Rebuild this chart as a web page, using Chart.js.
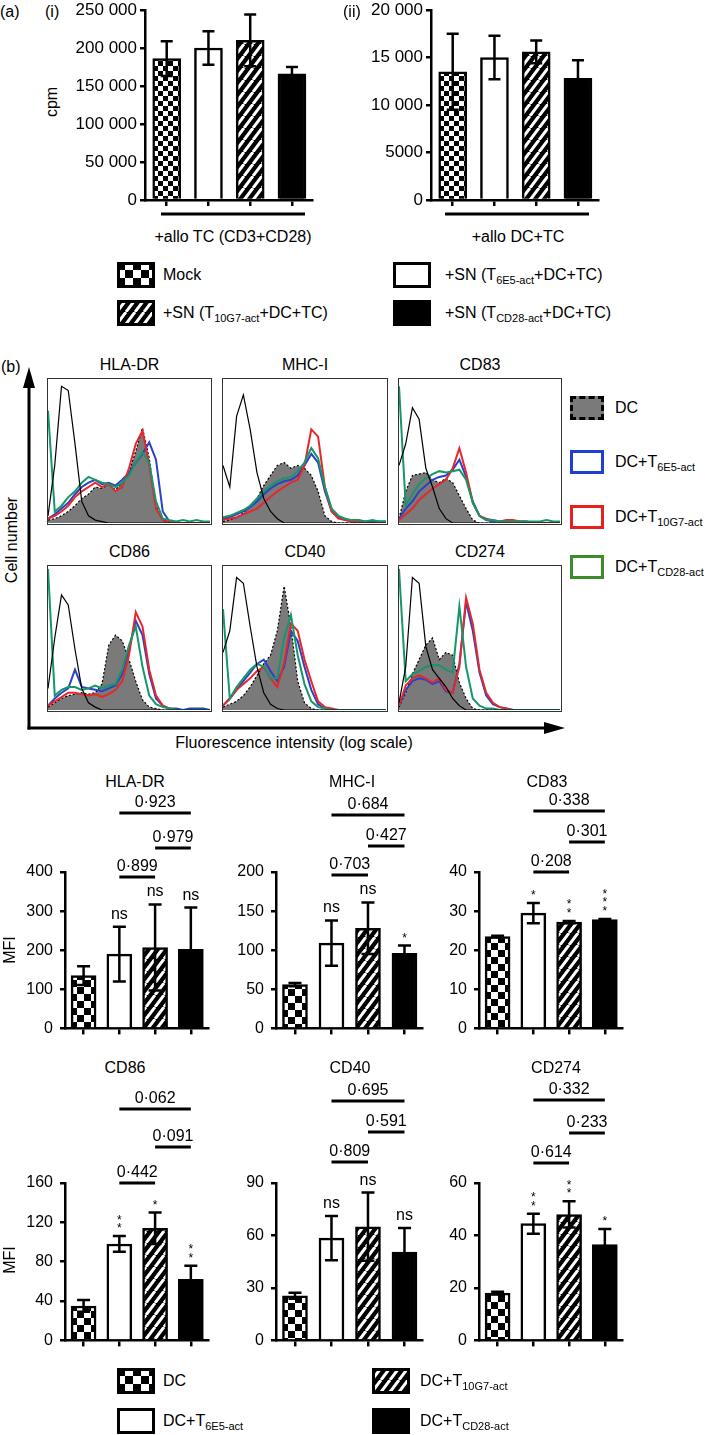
<!DOCTYPE html>
<html><head><meta charset="utf-8">
<script src="https://cdn.jsdelivr.net/npm/chart.js@4.4.1/dist/chart.umd.min.js"></script>
<style>
html,body{margin:0;padding:0;background:#fff;}
body{width:709px;height:1435px;position:relative;overflow:hidden;font-family:'Liberation Sans',Arial,Helvetica,sans-serif;color:#000;}
.t{position:absolute;font-size:16px;line-height:1;white-space:nowrap;}
.c{transform:translate(-50%,-50%);}
.l{transform:translateY(-50%);}
.rot{transform:translate(-50%,-50%) rotate(-90deg);}
sub{font-size:11px;vertical-align:-4px;line-height:0;}
canvas{position:absolute;}
.box{position:absolute;border:1.5px solid #333;box-sizing:border-box;}
.sw{position:absolute;box-sizing:border-box;}
</style></head><body>
<svg width="709" height="1435" style="position:absolute;left:0;top:0">
 <line x1="161" y1="214" x2="305" y2="214" stroke="#000" stroke-width="3"/>
 <line x1="445" y1="214" x2="589" y2="214" stroke="#000" stroke-width="3"/>
 <line x1="29" y1="385" x2="29" y2="729.5" stroke="#000" stroke-width="3"/>
 <line x1="27.5" y1="728" x2="548" y2="728" stroke="#000" stroke-width="3"/>
 <polygon points="29,367 23,388 35,388" fill="#000"/>
 <polygon points="565,728 544,722 544,734" fill="#000"/>
</svg>
<script>
// ================= DATA =================
const groupsA = ['Mock', '+SN (T6E5-act+DC+TC)', '+SN (T10G7-act+DC+TC)', '+SN (TCD28-act+DC+TC)'];
const groupsB = ['DC', 'DC+T6E5-act', 'DC+T10G7-act', 'DC+TCD28-act'];
const panelAGroups = ['+allo TC (CD3+CD28)', '+allo DC+TC'];

const cpmTC = [186000, 200000, 210000, 166000];
const cpmTCErr = [23000, 22000, 34000, 9000];
const cpmTCTicks = [0, 50000, 100000, 150000, 200000, 250000];
const cpmTCTickLabels = ['0', '50 000', '100 000', '150 000', '200 000', '250 000'];

const cpmDC = [13500, 15000, 15600, 12800];
const cpmDCErr = [4000, 2300, 1200, 1900];
const cpmDCTicks = [0, 5000, 10000, 15000, 20000];
const cpmDCTickLabels = ['0', '5000', '10 000', '15 000', '20 000'];

const markers = ['HLA-DR', 'MHC-I', 'CD83', 'CD86', 'CD40', 'CD274'];

const mfiHLADR = [135, 190, 207, 202];
const errHLADR = [24, 70, 110, 107];
const sigHLADR = ['', 'ns', 'ns', 'ns'];
const pHLADR = ['0·923', '0·979', '0·899'];
const ticksHLADR = [0, 100, 200, 300, 400];

const mfiMHCI = [56, 109, 128, 96];
const errMHCI = [2, 29, 33, 10];
const sigMHCI = ['', 'ns', 'ns', '*'];
const pMHCI = ['0·684', '0·427', '0·703'];
const ticksMHCI = [0, 50, 100, 150, 200];

const mfiCD83 = [23.5, 29.5, 27.2, 27.8];
const errCD83 = [0.2, 2.6, 0.3, 0.2];
const sigCD83 = ['', '*', '**', '***'];
const pCD83 = ['0·338', '0·301', '0·208'];
const ticksCD83 = [0, 10, 20, 30, 40];

const mfiCD86 = [35, 98, 114, 62];
const errCD86 = [6, 8, 16, 14];
const sigCD86 = ['', '**', '*', '**'];
const pCD86 = ['0·062', '0·091', '0·442'];
const ticksCD86 = [0, 40, 80, 120, 160];

const mfiCD40 = [25.5, 58.5, 65, 50.5];
const errCD40 = [1.7, 12.7, 19.5, 13.7];
const sigCD40 = ['', 'ns', 'ns', 'ns'];
const pCD40 = ['0·695', '0·591', '0·809'];
const ticksCD40 = [0, 30, 60, 90];

const mfiCD274 = [18, 44.5, 48, 36.5];
const errCD274 = [0.5, 3.8, 5, 6];
const sigCD274 = ['', '**', '**', '*'];
const pCD274 = ['0·332', '0·233', '0·614'];
const ticksCD274 = [0, 20, 40, 60];

const pPairs = [[1, 3], [2, 3], [1, 2]];

// histogram bins (log fluorescence, relative cell counts)
const histBins = [0,1,2,3,4,5,6,7,8,9,10,11,12,13,14,15,16,17,18,19,20,21,22,23,24];
const hlaIso   = [5,40,95,92,55,15,5,2,1,0,0,0,0,0,0,0,0,0,0,0,0,0,0,0,0];
const hlaDC    = [2,3,5,8,12,17,20,25,24,27,23,28,35,50,66,45,12,2,0,0,0,0,0,0,0];
const hlaBlue  = [3,6,10,14,20,25,28,30,27,28,26,30,35,42,48,56,44,8,1,0,0,0,0,0,0];
const hlaRed   = [3,5,8,12,18,22,25,28,25,27,22,25,38,55,64,40,10,2,1,0,0,0,0,0,0];
const hlaGreen = [78,8,12,18,22,28,32,30,28,27,25,28,33,42,49,42,15,3,2,1,2,1,2,1,1];

const mhcIso   = [40,25,74,89,65,35,17,8,3,0,0,0,0,0,0,0,0,0,0,0,0,0,0,0,0];
const mhcDC    = [1,2,4,7,12,17,26,33,40,42,38,40,38,33,22,5,1,0,0,0,0,0,0,0,0];
const mhcBlue  = [3,4,6,8,11,15,20,24,27,29,30,33,40,48,42,22,8,4,2,1,1,1,1,1,1];
const mhcRed   = [2,3,4,6,8,10,14,18,22,25,28,30,40,65,60,25,8,3,2,1,1,0,0,0,0];
const mhcGreen = [4,5,7,9,12,17,22,26,29,31,32,36,42,52,45,25,10,5,3,2,2,1,2,1,1];

const cd83Iso   = [40,55,80,72,38,25,10,3,0,0,0,0,0,0,0,0,0,0,0,0,0,0,0,0,0];
const cd83DC    = [3,22,33,34,35,30,28,31,28,19,10,2,0,0,0,0,0,0,0,0,0,0,0,0,0];
const cd83Blue  = [3,10,15,22,26,30,32,33,37,44,32,15,5,2,1,1,1,1,1,1,0,0,0,0,0];
const cd83Red   = [2,6,10,16,20,24,27,30,38,52,35,14,5,3,2,1,2,2,1,1,0,0,0,0,0];
const cd83Green = [95,12,20,27,31,34,36,35,36,37,30,14,5,2,2,1,1,1,1,1,1,1,2,1,1];

const cd86Iso   = [15,50,80,73,42,15,5,2,0,0,0,0,0,0,0,0,0,0,0,0,0,0,0,0,0];
const cd86DC    = [2,5,8,10,11,12,11,12,18,45,52,48,35,20,7,2,1,0,0,0,0,0,0,0,0];
const cd86Blue  = [3,8,12,15,28,16,15,14,13,15,17,25,42,62,52,25,8,3,1,1,0,1,1,1,0];
const cd86Red   = [3,6,9,12,12,11,10,11,9,11,14,20,38,68,58,28,10,3,1,0,0,0,0,0,0];
const cd86Green = [98,10,14,16,16,14,15,17,15,17,18,28,45,58,30,10,4,2,1,0,0,0,0,0,0];

const cd40Iso   = [40,55,92,88,58,30,12,4,1,0,0,0,0,0,0,0,0,0,0,0,0,0,0,0,0];
const cd40DC    = [2,4,6,10,16,24,32,38,55,86,58,20,5,1,0,0,0,0,0,0,0,0,0,0,0];
const cd40Blue  = [3,8,14,20,26,32,35,27,20,30,55,48,30,14,4,1,0,0,0,0,0,0,0,0,0];
const cd40Red   = [3,8,14,18,22,27,30,22,16,33,60,55,35,20,6,2,1,0,0,0,0,0,0,0,0];
const cd40Green = [70,8,16,22,28,32,30,22,22,50,66,38,18,6,2,1,0,0,0,0,0,0,0,0,0];

const cd274Iso   = [5,30,92,88,44,28,22,16,8,3,0,0,0,0,0,0,0,0,0,0,0,0,0,0,0];
const cd274DC    = [2,12,25,35,45,50,35,40,38,19,8,1,0,0,0,0,0,0,0,0,0,0,0,0,0];
const cd274Blue  = [3,14,20,22,21,18,20,13,12,32,75,55,26,10,4,2,1,0,0,0,0,0,0,0,0];
const cd274Red   = [3,17,22,24,22,19,22,14,12,30,78,60,28,12,5,2,1,0,0,0,0,0,0,0,0];
const cd274Green = [98,20,25,27,30,31,31,28,26,72,30,8,3,1,1,0,0,0,0,0,0,0,0,0,0];

// ================= STYLE / LAYOUT =================
const FONT = "'Liberation Sans', Arial, Helvetica, sans-serif";
Chart.defaults.font.family = FONT;
Chart.defaults.font.size = 16;
Chart.defaults.color = '#000';

function checker(s) {
  const c = document.createElement('canvas'); c.width = 2 * s; c.height = 2 * s;
  const x = c.getContext('2d'); x.fillStyle = '#fff'; x.fillRect(0, 0, 2 * s, 2 * s);
  x.fillStyle = '#000'; x.fillRect(0, 0, s, s); x.fillRect(s, s, s, s);
  return c;
}
function hatch(w, h, lw) {
  const c = document.createElement('canvas'); c.width = w; c.height = h;
  const x = c.getContext('2d'); x.fillStyle = '#000'; x.fillRect(0, 0, w, h);
  x.strokeStyle = '#fff'; x.lineWidth = lw;
  x.beginPath();
  for (const o of [-w, 0, w]) { x.moveTo(o, h); x.lineTo(o + w, 0); }
  x.stroke();
  return c;
}
function pat(tile) { return document.createElement('canvas').getContext('2d').createPattern(tile, 'repeat'); }
function fillsFor(cell) {
  return [pat(checker(cell)), '#ffffff', pat(hatch(9, 12, 3)), '#000000'];
}

function addText(html, x, y, cls, size) {
  const d = document.createElement('div');
  d.className = 't ' + cls; d.innerHTML = html;
  d.style.left = x + 'px'; d.style.top = y + 'px';
  if (size) d.style.fontSize = size + 'px';
  document.body.appendChild(d);
  return d;
}
function subbed(s) { return s.replace(/T([0-9A-Za-z]+-act)/, 'T<sub>$1</sub>'); }

function makeBar(cfg) {
  const yW = 72, padR = 8, xH = 12, padB = 4;
  const padT = cfg.padT;
  const plotW = cfg.rightX - cfg.axisX, plotH = cfg.zeroY - cfg.topY;
  const W = yW + plotW + padR, H = padT + plotH + xH + padB;
  const left = cfg.axisX - yW, top = cfg.topY - padT;
  const cv = document.createElement('canvas');
  cv.width = W; cv.height = H;
  cv.style.left = left + 'px'; cv.style.top = top + 'px';
  cv.style.width = W + 'px'; cv.style.height = H + 'px';
  document.body.appendChild(cv);
  const toLocal = y => y - top;
  const overlay = {
    id: 'overlay',
    afterDatasetsDraw(chart) {
      const ctx = chart.ctx, xs = chart.scales.x, ys = chart.scales.y;
      const meta = chart.getDatasetMeta(0);
      ctx.save();
      ctx.strokeStyle = '#000'; ctx.fillStyle = '#000'; ctx.lineCap = 'butt';
      cfg.values.forEach((v, i) => {
        const e = cfg.errs[i], x = meta.data[i].x, c = cfg.cap / 2;
        const yt = ys.getPixelForValue(v + e), yb = ys.getPixelForValue(Math.max(v - e, 0));
        ctx.lineWidth = 2.5;
        ctx.beginPath();
        ctx.moveTo(x, yt); ctx.lineTo(x, yb);
        ctx.moveTo(x - c, yt); ctx.lineTo(x + c, yt);
        ctx.moveTo(x - c, yb); ctx.lineTo(x + c, yb);
        ctx.stroke();
        const s = cfg.sig ? cfg.sig[i] : '';
        ctx.textAlign = 'center'; ctx.textBaseline = 'alphabetic';
        if (s === 'ns') {
          ctx.font = '16px ' + FONT; ctx.fillText('ns', x, yt - 8);
        } else if (s) {
          ctx.font = '12px ' + FONT;
          for (let k = 0; k < s.length; k++) ctx.fillText('*', x, yt - 4 - k * 8.5);
        }
      });
      if (cfg.pvals) {
        cfg.pvals.forEach((p, k) => {
          const [a, b] = pPairs[k];
          const xa = xs.getPixelForValue(a), xb = xs.getPixelForValue(b);
          const ly = toLocal(cfg.brLine[k]);
          ctx.lineWidth = 3;
          ctx.beginPath(); ctx.moveTo(xa, ly); ctx.lineTo(xb, ly); ctx.stroke();
          ctx.font = '16px ' + FONT; ctx.textAlign = 'center'; ctx.textBaseline = 'alphabetic';
          ctx.fillText(p, (xa + xb) / 2, ly - 6);
        });
      }
      ctx.restore();
    }
  };
  return new Chart(cv, {
    type: 'bar',
    data: { datasets: [{
      data: cfg.values.map((v, i) => ({ x: i, y: v })),
      backgroundColor: fillsFor(cfg.cell),
      borderColor: '#000', borderWidth: 2.5,
      barThickness: cfg.barW, borderSkipped: 'start'
    }] },
    options: {
      responsive: false, animation: false, devicePixelRatio: 1,
      layout: { padding: { top: padT, right: padR, bottom: padB, left: 0 } },
      plugins: { legend: { display: false }, tooltip: { enabled: false } },
      scales: {
        x: {
          type: 'linear', min: -0.52, max: 3.48, offset: false,
          afterBuildTicks: s => { s.ticks = [0, 1, 2, 3].map(v => ({ value: v })); },
          afterFit: s => { s.height = xH; },
          ticks: { display: false },
          grid: { display: true, offset: false, drawOnChartArea: false, drawTicks: true, tickLength: 6, color: '#000', lineWidth: 2.5 },
          border: { display: true, color: '#000', width: 2.5 }
        },
        y: {
          min: 0, max: cfg.ticks[cfg.ticks.length - 1],
          afterBuildTicks: s => { s.ticks = cfg.ticks.map(v => ({ value: v })); },
          afterFit: s => { s.width = yW; },
          ticks: {
            autoSkip: false, padding: cfg.tickPad, color: '#000', font: { size: cfg.tickSize || 16 },
            callback: v => { const i = cfg.ticks.indexOf(v); return i >= 0 ? cfg.tickLabels[i] : ''; }
          },
          grid: { display: true, drawOnChartArea: false, drawTicks: true, tickLength: 5, color: '#000', lineWidth: 2.5 },
          border: { display: true, color: '#000', width: 2.5 }
        }
      }
    },
    plugins: [overlay]
  });
}

// ---------- panel (a) ----------
makeBar({ axisX: 145, rightX: 312, topY: 10, zeroY: 200, padT: 14, barW: 28, cell: 5, cap: 12, tickPad: 3, tickSize: 17,
  values: cpmTC, errs: cpmTCErr, ticks: cpmTCTicks, tickLabels: cpmTCTickLabels });
makeBar({ axisX: 431, rightX: 598, topY: 10, zeroY: 200, padT: 14, barW: 28, cell: 5, cap: 12, tickPad: 3, tickSize: 17,
  values: cpmDC, errs: cpmDCErr, ticks: cpmDCTicks, tickLabels: cpmDCTickLabels });

addText('(a)', 0, 12, 'l');
addText('(i)', 45, 12, 'l');
addText('(ii)', 343, 12, 'l');
addText('cpm', 52, 102, 'rot');
addText(panelAGroups[0], 233, 237, 'c');
addText(panelAGroups[1], 518, 237, 'c');

function swatchCanvas(x, y, w, h, fill) {
  const c = document.createElement('canvas'); c.width = w; c.height = h;
  c.style.left = x + 'px'; c.style.top = y + 'px';
  const g = c.getContext('2d');
  g.fillStyle = fill; g.fillRect(0, 0, w, h);
  g.strokeStyle = '#000'; g.lineWidth = 3; g.strokeRect(1.5, 1.5, w - 3, h - 3);
  document.body.appendChild(c);
}
const legFills = fillsFor(8);
// legend (a)
swatchCanvas(117, 262, 38, 26, legFills[0]); addText(subbed(groupsA[0]), 163, 275, 'l');
swatchCanvas(393, 262, 38, 26, legFills[1]); addText(subbed(groupsA[1]), 445, 275, 'l');
swatchCanvas(117, 300, 38, 26, legFills[2]); addText(subbed(groupsA[2]), 163, 313, 'l');
swatchCanvas(393, 300, 38, 26, legFills[3]); addText(subbed(groupsA[3]), 445, 313, 'l');

// ---------- panel (b) histograms ----------
const COL = { blue: '#2b41c6', red: '#e8262c', green: '#15976a', gray: '#7a7a7a' };
function makeHist(left, top, w, h, iso, dc, blue, red, green) {
  const d = document.createElement('div'); d.className = 'box';
  d.style.left = left + 'px'; d.style.top = top + 'px'; d.style.width = w + 'px'; d.style.height = h + 'px';
  document.body.appendChild(d);
  const cw = w - 3, ch = h - 3;
  const cv = document.createElement('canvas'); cv.width = cw; cv.height = ch;
  cv.style.left = '0px'; cv.style.top = '0px'; cv.style.width = cw + 'px'; cv.style.height = ch + 'px';
  d.appendChild(cv);
  new Chart(cv, {
    type: 'line',
    data: { labels: histBins, datasets: [
      { data: iso, borderColor: '#000', borderWidth: 1.2, fill: false },
      { data: green, borderColor: COL.green, borderWidth: 2, fill: false },
      { data: red, borderColor: COL.red, borderWidth: 2, fill: false },
      { data: blue, borderColor: COL.blue, borderWidth: 2, fill: false },
      { data: dc, borderColor: '#000', borderWidth: 1.2, borderDash: [2, 2], backgroundColor: COL.gray, fill: 'origin' }
    ] },
    options: {
      responsive: false, animation: false, devicePixelRatio: 1,
      layout: { padding: 0 },
      plugins: { legend: { display: false }, tooltip: { enabled: false } },
      elements: { point: { radius: 0 }, line: { tension: 0 } },
      scales: { x: { display: false }, y: { display: false, min: 0, max: 100 } }
    }
  });
}
const hx = [47, 222, 398], hw = [165, 166, 164], hy = [378, 565], hh = 147;
makeHist(hx[0], hy[0], hw[0], hh, hlaIso, hlaDC, hlaBlue, hlaRed, hlaGreen);
makeHist(hx[1], hy[0], hw[1], hh, mhcIso, mhcDC, mhcBlue, mhcRed, mhcGreen);
makeHist(hx[2], hy[0], hw[2], hh, cd83Iso, cd83DC, cd83Blue, cd83Red, cd83Green);
makeHist(hx[0], hy[1], hw[0], hh, cd86Iso, cd86DC, cd86Blue, cd86Red, cd86Green);
makeHist(hx[1], hy[1], hw[1], hh, cd40Iso, cd40DC, cd40Blue, cd40Red, cd40Green);
makeHist(hx[2], hy[1], hw[2], hh, cd274Iso, cd274DC, cd274Blue, cd274Red, cd274Green);
for (let r = 0; r < 2; r++) for (let c = 0; c < 3; c++) {
  addText(markers[r * 3 + c], hx[c] + hw[c] / 2, hy[r] - 13, 'c');
}
addText('(b)', 1, 367, 'l');
addText('Cell number', 12, 540, 'rot');
addText('Fluorescence intensity (log scale)', 294, 743, 'c');

// histogram legend
function swatchDiv(x, y, w, h, css) {
  const d = document.createElement('div'); d.className = 'sw';
  d.style.left = x + 'px'; d.style.top = y + 'px'; d.style.width = w + 'px'; d.style.height = h + 'px';
  d.style.cssText += css; document.body.appendChild(d);
}
swatchDiv(570, 396, 34, 24, 'border:3px dashed #000;background:' + COL.gray + ';');
swatchDiv(570, 450, 34, 24, 'border:3px solid #1f3fd0;background:#fff;');
swatchDiv(570, 505, 34, 24, 'border:3px solid #e5201f;background:#fff;');
swatchDiv(570, 555, 34, 24, 'border:3px solid #3c8c2c;background:#fff;');
addText(subbed(groupsB[0]), 615, 408, 'l');
addText(subbed(groupsB[1]), 615, 462, 'l');
addText(subbed(groupsB[2]), 615, 517, 'l');
addText(subbed(groupsB[3]), 615, 567, 'l');

// ---------- MFI bar panels ----------
const mfiCols = [{ axisX: 65, rightX: 208 }, { axisX: 276, rightX: 422 }, { axisX: 479, rightX: 622 }];
const mfiRows = [{ topY: 872, zeroY: 1029 }, { topY: 1183, zeroY: 1341 }];
const mfiSets = [
  { v: mfiHLADR, e: errHLADR, s: sigHLADR, p: pHLADR, t: ticksHLADR, br: [813, 848, 877], title: [135, 782] },
  { v: mfiMHCI, e: errMHCI, s: sigMHCI, p: pMHCI, t: ticksMHCI, br: [815, 846, 875], title: [352, 782] },
  { v: mfiCD83, e: errCD83, s: sigCD83, p: pCD83, t: ticksCD83, br: [811, 842, 872], title: [547, 782] },
  { v: mfiCD86, e: errCD86, s: sigCD86, p: pCD86, t: ticksCD86, br: [1109, 1147, 1183], title: [125, 1068] },
  { v: mfiCD40, e: errCD40, s: sigCD40, p: pCD40, t: ticksCD40, br: [1101, 1132, 1162], title: [350, 1068] },
  { v: mfiCD274, e: errCD274, s: sigCD274, p: pCD274, t: ticksCD274, br: [1100, 1133, 1163], title: [556, 1068] }
];
mfiSets.forEach((m, k) => {
  const col = mfiCols[k % 3], row = mfiRows[Math.floor(k / 3)];
  const padT = row.topY - (Math.min(...m.br) - 22);
  makeBar({ axisX: col.axisX, rightX: col.rightX, topY: row.topY, zeroY: row.zeroY, padT: padT,
    barW: 25, cell: 7, cap: 13, tickPad: 7,
    values: m.v, errs: m.e, sig: m.s, pvals: m.p, brLine: m.br,
    ticks: m.t, tickLabels: m.t.map(String) });
  addText(markers[k], m.title[0], m.title[1], 'c');
});
addText('MFI', 10, 950, 'rot');
addText('MFI', 10, 1260, 'rot');

// bottom legend
swatchCanvas(117, 1368, 38, 26, legFills[0]); addText(subbed(groupsB[0]), 163, 1381, 'l');
swatchCanvas(372, 1368, 38, 26, legFills[2]); addText(subbed(groupsB[2]), 420, 1381, 'l');
swatchCanvas(117, 1408, 38, 26, legFills[1]); addText(subbed(groupsB[1]), 163, 1421, 'l');
swatchCanvas(372, 1408, 38, 26, legFills[3]); addText(subbed(groupsB[3]), 420, 1421, 'l');
</script>
</body></html>
